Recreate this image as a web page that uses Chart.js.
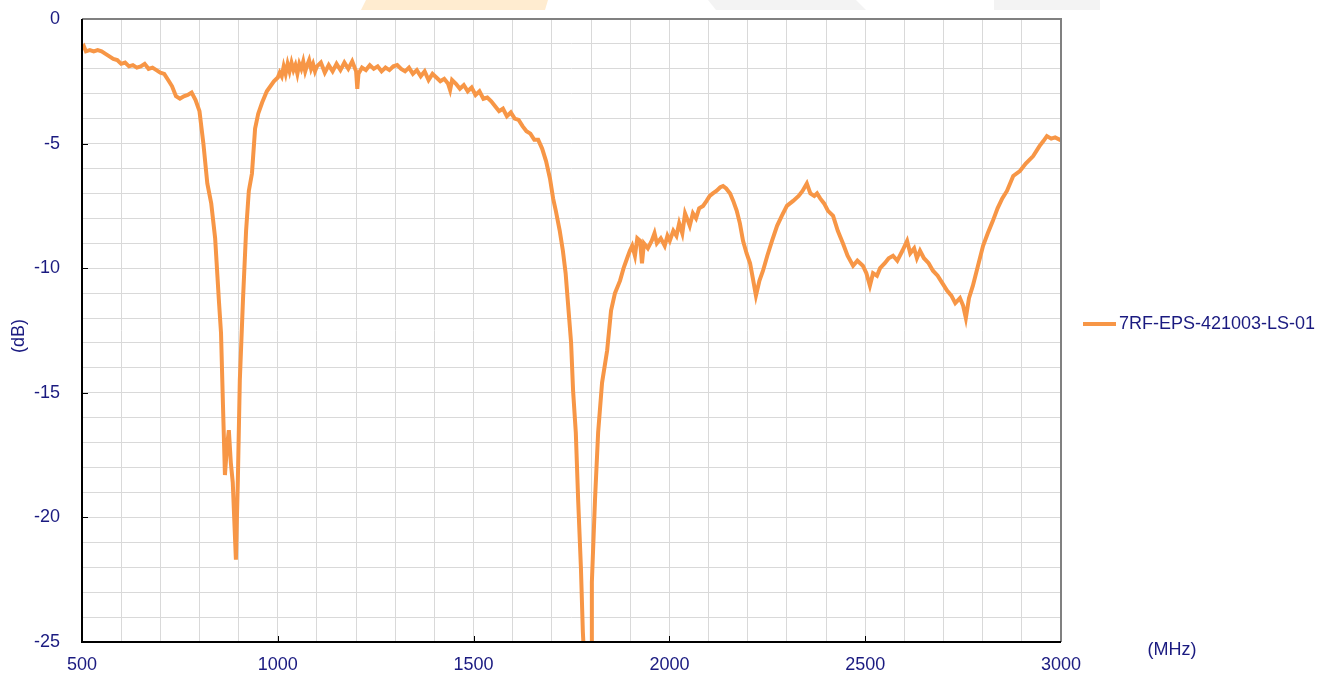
<!DOCTYPE html>
<html>
<head>
<meta charset="utf-8">
<script src="https://cdn.jsdelivr.net/npm/chart.js@4/dist/chart.umd.min.js"></script>
<style>
  html, body { margin: 0; padding: 0; background: #fff; }
  #wrap { width: 1337px; height: 675px; position: relative; }
</style>
</head>
<body>
<div id="wrap"><canvas id="lossChart" width="1337" height="675"></canvas></div>
<script>
// ========== DATA ==========
const seriesName = '7RF-EPS-421003-LS-01';
const freqMHz = [
  500, 505, 510, 520, 530, 540, 550, 560, 570, 580, 590, 600, 610, 620, 630, 640, 650, 660, 670, 680,
  690, 700, 710, 720, 730, 740, 750, 760, 770, 780, 790, 800, 810, 820, 830, 840, 850, 855, 860, 865,
  870, 875, 880, 885, 893, 898, 903, 911, 919, 926, 934, 942, 950, 960, 972, 990, 1000, 1005, 1010, 1015,
  1020, 1025, 1030, 1035, 1040, 1045, 1050, 1055, 1060, 1065, 1070, 1075, 1080, 1085, 1090, 1095, 1100, 1110, 1120, 1130,
  1140, 1150, 1160, 1170, 1180, 1190, 1200, 1203, 1206, 1215, 1225, 1235, 1245, 1255, 1265, 1275, 1285, 1295, 1305, 1315,
  1325, 1335, 1345, 1355, 1365, 1375, 1385, 1395, 1405, 1415, 1425, 1435, 1440, 1445, 1455, 1465, 1475, 1485, 1495, 1505,
  1515, 1525, 1535, 1545, 1555, 1565, 1575, 1585, 1595, 1605, 1615, 1625, 1635, 1645, 1655, 1665, 1675, 1685, 1695, 1703,
  1710, 1720, 1728, 1735, 1741, 1749, 1754, 1761, 1767, 1774, 1779, 1790, 1800, 1802, 1810, 1818, 1828, 1841, 1851, 1861,
  1874, 1883, 1892, 1899, 1905, 1912, 1918, 1925, 1930, 1935, 1945, 1955, 1962, 1968, 1978, 1988, 1995, 2001, 2010, 2018,
  2025, 2033, 2040, 2045, 2052, 2060, 2068, 2076, 2086, 2095, 2103, 2111, 2120, 2130, 2137, 2145, 2155, 2163, 2172, 2180,
  2188, 2197, 2206, 2213, 2221, 2230, 2239, 2250, 2262, 2275, 2287, 2300, 2316, 2330, 2340, 2351, 2360, 2370, 2377, 2385,
  2395, 2405, 2418, 2430, 2443, 2455, 2469, 2480, 2494, 2503, 2512, 2520, 2530, 2538, 2550, 2560, 2571, 2582, 2595, 2607,
  2615, 2625, 2632, 2640, 2650, 2662, 2673, 2685, 2697, 2709, 2720, 2730, 2742, 2750, 2757, 2765, 2775, 2788, 2801, 2813,
  2826, 2838, 2850, 2862, 2878, 2895, 2910, 2929, 2945, 2955, 2964, 2975, 2985, 2997, 3000
];
const lossDb = [
  -1.2, -1.1, -1.3, -1.25, -1.3, -1.25, -1.3, -1.4, -1.5, -1.6, -1.65, -1.8, -1.75, -1.9, -1.85, -1.95, -1.9, -1.8, -2.0, -1.95,
  -2.05, -2.15, -2.2, -2.45, -2.7, -3.1, -3.2, -3.1, -3.05, -2.95, -3.25, -3.7, -5.0, -6.6, -7.4, -8.8, -11.4, -12.6, -15.5, -18.3,
  -17.2, -16.5, -17.8, -18.6, -21.7, -18.5, -14.5, -11.3, -8.5, -6.9, -6.2, -4.4, -3.8, -3.35, -2.9, -2.5, -2.35, -2.15, -2.3, -1.9,
  -2.2, -1.8, -2.1, -1.75, -2.05, -1.85, -2.2, -1.8, -2.0, -1.7, -2.1, -1.85, -1.65, -2.0, -1.8, -2.1, -1.9, -1.75, -2.15, -1.85,
  -2.1, -1.8, -2.05, -1.75, -2.0, -1.7, -2.1, -2.8, -2.2, -1.95, -2.05, -1.85, -2.0, -1.9, -2.1, -1.95, -2.05, -1.9, -1.85, -2.0,
  -2.1, -1.95, -2.2, -2.05, -2.3, -2.1, -2.45, -2.2, -2.35, -2.5, -2.4, -2.6, -2.85, -2.45, -2.6, -2.8, -2.65, -2.9, -2.75, -3.05,
  -2.9, -3.2, -3.15, -3.3, -3.5, -3.7, -3.6, -3.9, -3.75, -4.0, -4.05, -4.3, -4.5, -4.6, -4.85, -4.85, -5.2, -5.7, -6.4, -7.2,
  -7.7, -8.5, -9.3, -10.2, -11.4, -13.0, -14.9, -16.6, -19.3, -22.0, -24.6, -28.0, -25.5, -22.6, -19.3, -16.6, -14.6, -13.3, -11.7, -11.0,
  -10.5, -10.0, -9.6, -9.3, -9.1, -9.5, -8.8, -8.9, -9.8, -9.0, -9.2, -8.9, -8.6, -9.0, -8.8, -9.1, -8.7, -8.9, -8.5, -8.7,
  -8.2, -8.6, -7.8, -8.0, -8.3, -7.8, -8.0, -7.6, -7.5, -7.3, -7.1, -7.0, -6.9, -6.75, -6.7, -6.8, -7.0, -7.3, -7.7, -8.2,
  -8.9, -9.4, -9.8, -10.4, -11.1, -10.5, -10.1, -9.5, -8.9, -8.3, -7.9, -7.5, -7.3, -7.1, -6.9, -6.6, -7.0, -7.1, -7.0, -7.2,
  -7.4, -7.7, -7.9, -8.5, -9.0, -9.5, -9.9, -9.7, -9.9, -10.2, -10.7, -10.2, -10.3, -10.0, -9.8, -9.6, -9.5, -9.7, -9.3, -8.9,
  -9.4, -9.2, -9.6, -9.3, -9.6, -9.8, -10.1, -10.3, -10.6, -10.9, -11.1, -11.4, -11.2, -11.5, -12.0, -11.2, -10.7, -9.9, -9.1, -8.6,
  -8.1, -7.6, -7.2, -6.9, -6.3, -6.1, -5.8, -5.5, -5.1, -4.9, -4.7, -4.8, -4.75, -4.85, -4.8
];
const xMin = 500, xMax = 3000, xLabelStep = 500;
const yMin = -25, yMax = 0, yLabelStep = 5;

// ========== STYLE ==========
const textColor = '#1a1a80';
const lineColor = '#F79646';
const gridColor = '#d9d9d9';
const fontFamily = '"Liberation Sans", Arial, sans-serif';
const fontSize = 18;

// ========== PLUGINS ==========
// faint banner shapes across the top edge
const bannerPlugin = {
  id: 'banner',
  beforeDraw(chart) {
    const ctx = chart.ctx;
    ctx.save();
    ctx.fillStyle = '#ffecd0';
    ctx.beginPath();
    ctx.moveTo(366, 0); ctx.lineTo(548, 0); ctx.lineTo(545, 10); ctx.lineTo(361, 10);
    ctx.closePath(); ctx.fill();
    ctx.fillStyle = '#f3f3f3';
    ctx.beginPath();
    ctx.moveTo(708, 0); ctx.lineTo(856, 0); ctx.lineTo(866, 10); ctx.lineTo(716, 10);
    ctx.closePath(); ctx.fill();
    ctx.beginPath();
    ctx.moveTo(994, 0); ctx.lineTo(1100, 0); ctx.lineTo(1100, 10); ctx.lineTo(994, 10);
    ctx.closePath(); ctx.fill();
    ctx.restore();
  }
};

// frame, inner tick marks, axis titles and legend
const decorPlugin = {
  id: 'decor',
  afterDraw(chart) {
    const ctx = chart.ctx;
    const a = chart.chartArea;
    const xs = chart.scales.x, ys = chart.scales.y;
    ctx.save();
    // grey top / right border
    ctx.strokeStyle = '#808080';
    ctx.lineWidth = 2;
    ctx.beginPath();
    ctx.moveTo(a.left, a.top); ctx.lineTo(a.right, a.top); ctx.lineTo(a.right, a.bottom);
    ctx.stroke();
    // black left / bottom axis
    ctx.strokeStyle = '#000';
    ctx.beginPath();
    ctx.moveTo(a.left, a.top); ctx.lineTo(a.left, a.bottom); ctx.lineTo(a.right, a.bottom);
    ctx.stroke();
    // major tick marks pointing inward
    ctx.lineWidth = 1;
    for (let v = xMin + xLabelStep; v < xMax; v += xLabelStep) {
      const px = Math.round(xs.getPixelForValue(v)) + 0.5;
      ctx.beginPath(); ctx.moveTo(px, a.bottom); ctx.lineTo(px, a.bottom - 6); ctx.stroke();
    }
    for (let v = yMin + yLabelStep; v < yMax; v += yLabelStep) {
      const py = Math.round(ys.getPixelForValue(v)) + 0.5;
      ctx.beginPath(); ctx.moveTo(a.left, py); ctx.lineTo(a.left + 6, py); ctx.stroke();
    }
    // axis titles
    ctx.fillStyle = textColor;
    ctx.font = fontSize + 'px ' + fontFamily;
    ctx.textAlign = 'center';
    ctx.textBaseline = 'middle';
    ctx.fillText('(MHz)', 1172, 650);
    ctx.translate(19, 336);
    ctx.rotate(-Math.PI / 2);
    ctx.fillText('(dB)', 0, 0);
    ctx.setTransform(1, 0, 0, 1, 0, 0);
    // legend
    ctx.strokeStyle = lineColor;
    ctx.lineWidth = 4;
    ctx.beginPath(); ctx.moveTo(1083, 324); ctx.lineTo(1116, 324); ctx.stroke();
    ctx.textAlign = 'left';
    ctx.fillText(seriesName, 1119, 324);
    ctx.restore();
  }
};

// ========== CHART ==========
const points = freqMHz.map((f, i) => ({ x: f, y: lossDb[i] }));

new Chart(document.getElementById('lossChart'), {
  type: 'line',
  data: {
    datasets: [{
      label: seriesName,
      data: points,
      borderColor: lineColor,
      borderWidth: 4,
      pointRadius: 0,
      tension: 0,
      fill: false
    }]
  },
  options: {
    responsive: false,
    animation: false,
    devicePixelRatio: 1,
    layout: { padding: { top: 19, right: 276, left: 0, bottom: 0 } },
    plugins: {
      legend: { display: false },
      tooltip: { enabled: false }
    },
    scales: {
      x: {
        type: 'linear',
        min: xMin,
        max: xMax,
        afterFit: s => { s.height = 33; s.paddingLeft = 0; s.paddingRight = 0; },
        grid: { color: gridColor, drawTicks: false },
        border: { display: false },
        ticks: {
          stepSize: 100,
          autoSkip: false,
          maxRotation: 0,
          padding: 12,
          color: textColor,
          font: { family: fontFamily, size: fontSize },
          callback: v => (v % xLabelStep === 0 ? String(v) : '')
        }
      },
      y: {
        min: yMin,
        max: yMax,
        afterFit: s => { s.width = 82; s.paddingTop = 0; s.paddingBottom = 0; },
        grid: { color: gridColor, drawTicks: false },
        border: { display: false },
        ticks: {
          stepSize: 1,
          autoSkip: false,
          padding: 22,
          color: textColor,
          font: { family: fontFamily, size: fontSize },
          callback: v => (v % yLabelStep === 0 ? String(v) : '')
        }
      }
    }
  },
  plugins: [bannerPlugin, decorPlugin]
});
</script>
</body>
</html>
